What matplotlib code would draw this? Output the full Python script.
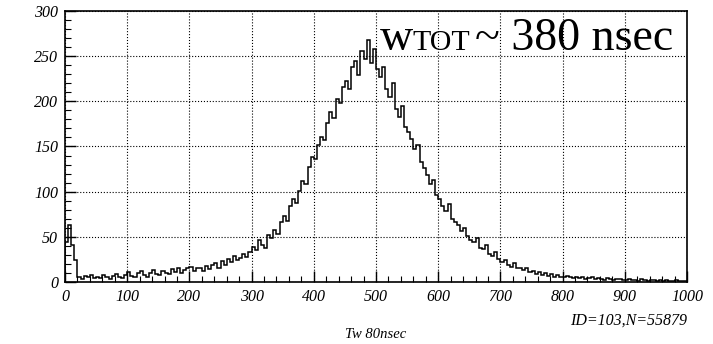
import numpy as np
import matplotlib
matplotlib.use('Agg')
import matplotlib.pyplot as plt
from matplotlib.ticker import MultipleLocator

# histogram contents, bins of width 5 from 0 to 1000
bin_edges = np.arange(0, 1005, 5)
counts = [
    44, 63, 41, 24, 6, 3, 7, 5, 8, 4,                  # 0-50
    6, 4, 8, 5, 3, 7, 9, 5, 4, 8,                      # 50-100
    11, 7, 6, 10, 12, 8, 5, 10, 13, 9,                 # 100-150
    8, 12, 10, 9, 14, 11, 16, 10, 13, 15,              # 150-200
    17, 12, 15, 16, 12, 18, 14, 19, 21, 16,            # 200-250
    23, 19, 26, 22, 29, 24, 27, 31, 28, 33,            # 250-300
    39, 35, 46, 41, 38, 52, 49, 58, 53, 66,            # 300-350
    73, 68, 84, 92, 88, 101, 112, 108, 127, 138,       # 350-400
    136, 152, 160, 157, 176, 188, 181, 203, 198, 216,  # 400-450
    222, 214, 238, 245, 229, 256, 247, 268, 242, 258,  # 450-500
    236, 227, 238, 214, 205, 220, 192, 183, 195, 172,  # 500-550
    166, 158, 147, 152, 133, 126, 118, 109, 113, 96,   # 550-600
    92, 84, 79, 86, 70, 66, 63, 57, 60, 51,            # 600-650
    47, 44, 49, 38, 36, 41, 31, 29, 33, 25,            # 650-700
    22, 24, 19, 17, 21, 15, 16, 13, 15, 11,            # 700-750
    12, 9, 11, 8, 10, 7, 9, 6, 8, 6,                   # 750-800
    5, 7, 5, 4, 6, 4, 5, 3, 4, 5,                      # 800-850
    3, 4, 3, 2, 4, 3, 2, 3, 3, 2,                      # 850-900
    2, 3, 2, 2, 1, 3, 2, 1, 2, 2,                      # 900-950
    1, 2, 1, 2, 1, 1, 2, 1, 1, 1,                      # 950-1000
]

x_ticks = [0, 100, 200, 300, 400, 500, 600, 700, 800, 900, 1000]
y_ticks = [0, 50, 100, 150, 200, 250, 300]

fig = plt.figure(figsize=(7.13, 3.44), dpi=100)
ax = fig.add_axes([65/713, 1-282/344, (687-65)/713, (282-11)/344])

ax.stairs(counts, bin_edges, color='black', linewidth=1.1)

ax.set_xlim(0, 1000)
ax.set_ylim(0, 300)
ax.set_xticks(x_ticks)
ax.set_yticks(y_ticks)
ax.xaxis.set_minor_locator(MultipleLocator(20))
ax.yaxis.set_minor_locator(MultipleLocator(10))
ax.tick_params(which='both', direction='in', top=False, right=False)
ax.tick_params(which='major', length=8, width=1.0, pad=5)
ax.tick_params(which='minor', length=4, width=0.8)
ax.grid(True, which='major', linestyle=':', color='black', linewidth=0.8)
for sp in ax.spines.values():
    sp.set_linewidth(1.2)

for lab in ax.get_xticklabels() + ax.get_yticklabels():
    lab.set_family('Liberation Serif')
    lab.set_style('italic')
    lab.set_fontsize(11.5)

# big annotation  w_TOT ~ 380 nsec
ax.text(507, 257, 'w', family='Liberation Serif', fontsize=33, va='baseline')
ax.text(559, 257, 'TOT', family='Liberation Serif', fontsize=21.5, va='baseline')
ax.text(659, 257, '~ 380 nsec', family='Liberation Serif', fontsize=33, va='baseline')

fig.text(376/713, 1-338/344, 'Tw 80nsec', family='Liberation Serif', style='italic',
         fontsize=10.5, ha='center', va='baseline')
fig.text(687/713, 1-325/344, 'ID=103,N=55879', family='Liberation Serif', style='italic',
         fontsize=11.5, ha='right', va='baseline')

fig.savefig('out.png', dpi=100)
